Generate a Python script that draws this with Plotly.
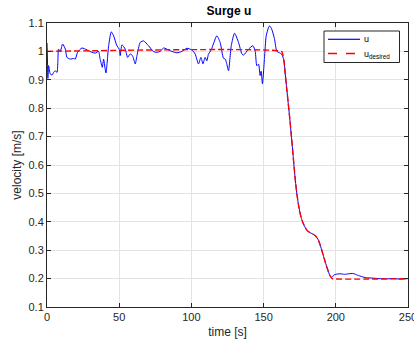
import plotly.graph_objects as go

# ---- data ----
t_u = [0, 0.3, 0.6, 1.1, 2.3, 3.5, 4.6, 5.7, 6.9, 7.5, 8.0, 9.2, 10.8, 12.7, 13.8,
       16.1, 18.4, 19.6, 21.2, 24.2, 27.7, 31.1, 33.4, 35.7, 36.7, 37.4, 38.3, 39.2,
       40.8, 42.7, 44.5, 46.1, 48.4, 50.0, 50.7, 51.9, 54.2, 55.8, 57.6, 59.2, 61.1,
       62.3, 64.6, 66.9, 70.3, 73.8, 76.1, 78.4, 80.7, 84.2, 86.5, 90.0, 93.4, 96.9,
       100.3, 102.6, 104.9, 106.6, 108.0, 109.5, 110.7, 111.8, 113.7, 115.5, 117.6,
       119.9, 122.2, 123.4, 124.3, 125.7, 127.6, 129.9, 132.6, 135.0, 136.1, 139.6,
       142.6, 144.2, 145.3, 146.5, 147.6, 148.3, 149.2, 150.6, 151.8, 153.4, 154.1,
       155.5, 157.5, 159.2, 161.0, 162.5,
       164, 165, 166, 167, 168, 169, 170, 171, 172, 173, 174, 175, 176, 177, 178,
       179, 180, 182, 184, 186, 188, 190, 192, 194, 196, 197.3, 198.5, 200, 203,
       206, 209, 212, 215, 218, 221, 225, 230, 235, 240, 245, 250]
v_u = [1.03, 0.98, 0.905, 0.95, 0.92, 0.917, 0.926, 0.932, 0.926, 0.96, 1.008, 1.0,
       1.026, 1.008, 0.979, 0.973, 0.975, 0.973, 0.997, 1.012, 1.005, 0.997, 0.994,
       1.0, 0.975, 0.96, 0.944, 0.973, 0.924, 1.02, 1.069, 1.055, 1.02, 1.008, 0.985,
       1.023, 1.008, 0.979, 0.991, 0.985, 0.956, 0.985, 1.032, 1.037, 1.02, 0.999,
       0.997, 1.0, 1.012, 1.005, 1.0, 0.995, 1.0, 1.011, 1.005, 0.991, 0.956, 0.979,
       0.956, 0.979, 0.967, 0.99, 1.005, 1.03, 1.055, 1.032, 0.976, 0.973, 0.96,
       0.932, 1.02, 1.064, 1.032, 0.991, 0.987, 1.008, 1.02, 1.0, 0.95, 0.955, 0.915,
       0.93, 0.886, 0.975, 1.055, 1.084, 1.09, 1.08, 1.045, 1.0, 0.995, 0.99,
       0.97, 0.92, 0.87, 0.82, 0.77, 0.715, 0.66, 0.6, 0.545, 0.5, 0.465, 0.437,
       0.415, 0.4, 0.388, 0.378, 0.37, 0.362, 0.357, 0.35, 0.335, 0.305, 0.27, 0.237,
       0.21, 0.204, 0.212, 0.215, 0.217, 0.215, 0.217, 0.218, 0.212, 0.207, 0.203,
       0.202, 0.2, 0.199, 0.2, 0.198, 0.2]

t_d = [0, 162.5, 164, 165, 166, 167, 168, 169, 170, 171, 172, 173, 174, 175, 176,
       177, 178, 179, 180, 182, 184, 186, 188, 190, 192, 194, 196, 197.5, 250]
v_d = [1.0, 1.0, 0.97, 0.92, 0.87, 0.82, 0.77, 0.715, 0.66, 0.6, 0.545, 0.5, 0.465,
       0.437, 0.415, 0.4, 0.388, 0.378, 0.37, 0.362, 0.357, 0.35, 0.335, 0.305, 0.27,
       0.237, 0.21, 0.2, 0.2]

x_ticks = [0, 50, 100, 150, 200, 250]
y_ticks = [0.1, 0.2, 0.3, 0.4, 0.5, 0.6, 0.7, 0.8, 0.9, 1.0, 1.1]
y_labels = ["0.1", "0.2", "0.3", "0.4", "0.5", "0.6", "0.7", "0.8", "0.9", "1", "1.1"]
legend_names = ["u", "u<sub>desired</sub>"]

FONT = "Liberation Sans, Arial, Helvetica, sans-serif"
AX = "#262626"
BLUE = "#0000ff"
RED = "#ff0000"
RED_DASH = "6px,3px"

fig = go.Figure()
fig.add_trace(go.Scatter(x=t_u, y=v_u, mode="lines", name=legend_names[0], showlegend=False,
                         line=dict(color=BLUE, width=1, shape="spline", smoothing=0.6)))
fig.add_trace(go.Scatter(x=t_d, y=v_d, mode="lines", name=legend_names[1], showlegend=False,
                         line=dict(color=RED, width=1.4, dash=RED_DASH, shape="spline", smoothing=0.3)))

axis_common = dict(showgrid=True, gridcolor="#e3e3e3", gridwidth=1,
                   showline=True, linecolor=AX, linewidth=1, mirror="ticks",
                   ticks="inside", ticklen=4, tickcolor=AX, tickwidth=1,
                   zeroline=False, automargin=False, ticklabeloverflow="allow",
                   tickfont=dict(family=FONT, size=11, color=AX))

# custom MATLAB-like legend box (paper coordinates)
L, R, B, T = 47, 408, 307, 23
W, H = R - L, B - T
px = lambda x: (x - L) / W
py = lambda y: (B - y) / H

shapes = [
    dict(type="rect", xref="paper", yref="paper", x0=px(324), x1=px(399.5), y0=py(62.5), y1=py(31),
         line=dict(color=AX, width=1), fillcolor="white", layer="above"),
    dict(type="line", xref="paper", yref="paper", x0=px(328), x1=px(360), y0=py(39.3), y1=py(39.3),
         line=dict(color=BLUE, width=1.2), layer="above"),
    dict(type="line", xref="paper", yref="paper", x0=px(328), x1=px(360), y0=py(53.5), y1=py(53.5),
         line=dict(color=RED, width=1.4, dash="dash"), layer="above"),
]
annotations = [
    dict(xref="paper", yref="paper", x=px(362), y=py(39), xanchor="left", yanchor="middle",
         text=legend_names[0], showarrow=False, font=dict(family=FONT, size=9, color="black")),
    dict(xref="paper", yref="paper", x=px(362), y=py(55), xanchor="left", yanchor="middle",
         text=legend_names[1], showarrow=False, font=dict(family=FONT, size=9, color="black")),
]

fig.update_layout(
    width=414, height=344, template="none",
    paper_bgcolor="white", plot_bgcolor="white",
    margin=dict(l=L, r=414 - R, t=T, b=344 - B),
    title=dict(text="<b>Surge u</b>", x=0.553, xanchor="center", y=0.968, yanchor="middle",
               font=dict(family=FONT, size=12, color="black")),
    xaxis=dict(range=[0, 250], tickvals=x_ticks, ticktext=[str(v) for v in x_ticks],
               title=dict(text="time [s]", font=dict(family=FONT, size=12, color=AX), standoff=5),
               **axis_common),
    yaxis=dict(range=[0.1, 1.1], tickvals=y_ticks, ticktext=y_labels,
               title=dict(text="velocity [m/s]", font=dict(family=FONT, size=12, color=AX), standoff=4),
               **axis_common),
    shapes=shapes,
    annotations=annotations,
    showlegend=False,
)

fig.write_html("out.html")
